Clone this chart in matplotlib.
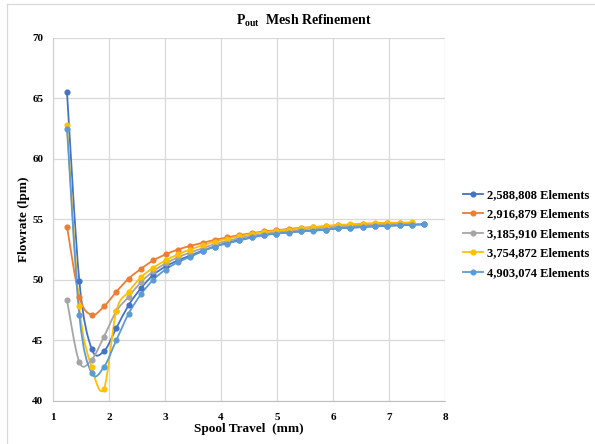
import numpy as np
import matplotlib
matplotlib.use("Agg")
import matplotlib.pyplot as plt
from matplotlib.path import Path
from matplotlib.patches import PathPatch
from matplotlib.lines import Line2D

plt.rcParams['font.family'] = ['Liberation Serif', 'DejaVu Serif']
plt.rcParams['font.weight'] = 'bold'
plt.rcParams['mathtext.fontset'] = 'custom'
plt.rcParams['mathtext.bf'] = 'Liberation Serif:bold'
plt.rcParams['mathtext.rm'] = 'Liberation Serif:bold'

# Spool travel positions (mm)
spool_travel = [1.25, 1.47, 1.69, 1.91, 2.13, 2.35, 2.57, 2.79, 3.01, 3.23,
                3.45, 3.67, 3.89, 4.11, 4.33, 4.55, 4.77, 4.99, 5.21, 5.43,
                5.65, 5.87, 6.09, 6.31, 6.53, 6.75, 6.97, 7.19, 7.41, 7.63]

series_labels = ["2,588,808 Elements", "2,916,879 Elements", "3,185,910 Elements",
                 "3,754,872 Elements", "4,903,074 Elements"]

flow_2588808 = [65.5, 49.9, 44.3, 44.1, 46.0, 47.9, 49.3, 50.4, 51.1, 51.6,
                52.0, 52.4, 52.75, 53.05, 53.3, 53.5, 53.7, 53.82, 53.92, 54.02,
                54.08, 54.15, 54.25, 54.3, 54.36, 54.42, 54.46, 54.5, 54.55, 54.6]
flow_2916879 = [54.4, 48.6, 47.1, 47.8, 49.0, 50.1, 50.9, 51.6, 52.1, 52.5,
                52.8, 53.05, 53.3, 53.5, 53.7, 53.85, 54.0, 54.1, 54.2, 54.3,
                54.35, 54.42, 54.5, 54.55, 54.6, 54.63, 54.66, 54.68, 54.7]
flow_3185910 = [48.3, 43.2, 43.4, 45.3, 47.4, 48.6, 49.8, 50.7, 51.35, 51.85,
                52.25, 52.6, 52.95, 53.2, 53.45, 53.65, 53.8, 53.95, 54.05, 54.15,
                54.25, 54.3, 54.38, 54.43, 54.48, 54.52, 54.55, 54.58, 54.6]
flow_3754872 = [62.8, 47.8, 42.8, 41.0, 47.4, 49.0, 50.2, 51.0, 51.6, 52.1,
                52.5, 52.85, 53.15, 53.4, 53.6, 53.8, 53.95, 54.05, 54.15, 54.25,
                54.35, 54.45, 54.53, 54.58, 54.65, 54.68, 54.72, 54.72, 54.75]
flow_4903074 = [62.5, 47.1, 42.3, 42.8, 45.0, 47.2, 48.8, 50.0, 50.85, 51.45,
                51.9, 52.35, 52.75, 53.0, 53.25, 53.5, 53.7, 53.82, 53.9, 54.0,
                54.05, 54.15, 54.25, 54.3, 54.38, 54.43, 54.47, 54.52, 54.55, 54.58]

series_values = [flow_2588808, flow_2916879, flow_3185910, flow_3754872, flow_4903074]
colors = ["#4472C4", "#ED7D31", "#A5A5A5", "#FFC000", "#5B9BD5"]

x_ticks = [1, 2, 3, 4, 5, 6, 7, 8]
y_ticks = [40, 45, 50, 55, 60, 65, 70]


def smooth_path(xs, ys):
    """Bezier path through the points (spreadsheet-style smoothed line)."""
    pts = np.column_stack([xs, ys]).astype(float)
    n = len(pts)
    verts = [pts[0]]
    codes = [Path.MOVETO]
    for i in range(n - 1):
        p0 = pts[i - 1] if i > 0 else pts[i]
        p1 = pts[i]
        p2 = pts[i + 1]
        p3 = pts[i + 2] if i + 2 < n else pts[i + 1]
        c1 = p1 + (p2 - p0) / 6.0
        c2 = p2 - (p3 - p1) / 6.0
        verts += [c1, c2, p2]
        codes += [Path.CURVE4] * 3
    return Path(verts, codes)


fig = plt.figure(figsize=(5.95, 4.44), dpi=100)
ax = fig.add_axes([53 / 595, 1 - 400.8 / 444, (445 - 53) / 595, (400.8 - 37.8) / 444])

for vals, col in zip(series_values, colors):
    xs = spool_travel[:len(vals)]
    ax.add_patch(PathPatch(smooth_path(xs, vals), fill=False, edgecolor=col,
                           lw=1.3, zorder=3, capstyle='round', joinstyle='round'))
    ax.plot(xs, vals, linestyle='none', marker='o', ms=3.4, color=col, zorder=4)

ax.set_xlim(1, 8)
ax.set_ylim(40, 70)
ax.set_xticks(x_ticks)
ax.set_yticks(y_ticks)
ax.grid(True, color="#D9D9D9", lw=0.9)
ax.set_axisbelow(True)
for s in ax.spines.values():
    s.set_visible(False)
ax.spines['left'].set_visible(True)
ax.spines['bottom'].set_visible(True)
ax.spines['left'].set_color("#D0D0D0")
ax.spines['bottom'].set_color("#BFBFBF")
ax.tick_params(length=0, labelsize=8, pad=9)
ax.tick_params(axis='y', pad=7)
for lab in ax.get_xticklabels() + ax.get_yticklabels():
    lab.set_fontweight('bold')

ax.set_xlabel("Spool Travel  (mm)", fontsize=9.5, fontweight='bold')
ax.set_ylabel("Flowrate (lpm)", fontsize=9.5, fontweight='bold')
ax.xaxis.set_label_coords(0.5, -28 / 363, transform=ax.transAxes)
ax.yaxis.set_label_coords(-29 / 392, 0.5, transform=ax.transAxes)
ax.xaxis.label.set_va('center')
ax.yaxis.label.set_va('center')

fig.text(304 / 595, 1 - 21 / 444, r"$\mathbf{P}_{\mathbf{out}}$  Mesh Refinement",
         ha='center', va='center', fontsize=10, fontweight='bold')

handles = [Line2D([0], [0], color=c, lw=1.3, marker='o', ms=3.4) for c in colors]
fig.legend(handles, series_labels, loc='center left',
           bbox_to_anchor=(457 / 595, 1 - 234 / 444), frameon=False,
           prop={'family': 'Liberation Serif', 'weight': 'bold', 'size': 9},
           handlelength=1.6, handletextpad=0.3, labelspacing=0.6, borderpad=0)

# chart frame
fig.add_artist(Line2D([7 / 595, 7 / 595], [0, 1 - 4 / 444], color="#D9D9D9", lw=0.9,
                      transform=fig.transFigure))
fig.add_artist(Line2D([7 / 595, 1], [1 - 4 / 444, 1 - 4 / 444], color="#D9D9D9", lw=0.9,
                      transform=fig.transFigure))

fig.savefig("out.png", dpi=100)
